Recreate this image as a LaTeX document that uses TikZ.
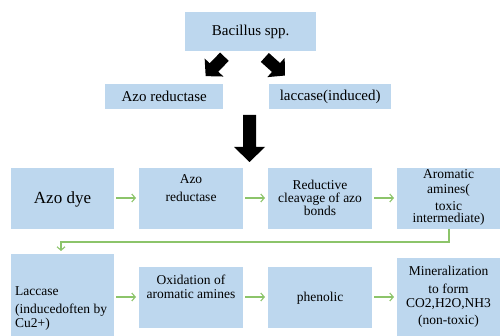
\documentclass[tikz,border=0pt]{standalone}
\usepackage{fontspec}
\setmainfont{Liberation Serif}
\usetikzlibrary{arrows.meta}
\definecolor{boxblue}{HTML}{BDD7EE}
\definecolor{flowgreen}{HTML}{8CC46A}
\begin{document}
\begin{tikzpicture}[x=1pt,y=-1pt,
  box/.style={fill=boxblue, draw=none, inner sep=0pt, anchor=north west},
  txt/.style={inner sep=0pt, align=center, font=\fontsize{13.5}{13.5}\selectfont},
  bigtxt/.style={inner sep=0pt, font=\fontsize{15}{15}\selectfont},
  flow/.style={draw=flowgreen, line width=1.1pt, -{Straight Barb[length=3.5pt,width=8pt]}, shorten <=2pt, shorten >=3pt},
  blockarrow/.style={fill=black}
]
\useasboundingbox (0,0) rectangle (500,336);
% top boxes
\node[box, minimum width=131pt, minimum height=39pt] (bac) at (185,12) {};
\node[bigtxt] (bact) at (bac.center) {Bacillus spp.};
\node[box, minimum width=118pt, minimum height=25pt] (azor) at (105,84) {};
\node[bigtxt] (azort) at (azor.center) {Azo reductase};
\node[box, minimum width=122pt, minimum height=25pt] (lacc) at (269,84) {};
\node[bigtxt] (lacct) at (lacc.center) {laccase(induced)};
% block arrows
\begin{scope}[shift={(214,67.5)}, rotate=226]
  \fill[blockarrow] (-15,-6) -- (0,-6) -- (0,-13) -- (12,0) -- (0,13) -- (0,6) -- (-15,6) -- cycle;
\end{scope}
\begin{scope}[shift={(276,67.5)}, rotate=-42]
  \fill[blockarrow] (-15,-6) -- (0,-6) -- (0,-13) -- (12,0) -- (0,13) -- (0,6) -- (-15,6) -- cycle;
\end{scope}
\fill[blockarrow] (243,115) -- (256,115) -- (256,147) -- (265,147) -- (249.5,162) -- (234,147) -- (243,147) -- cycle;
% row 1
\node[box, minimum width=103pt, minimum height=61pt] (b1) at (11,168) {};
\node[inner sep=0pt, font=\fontsize{17}{17}\selectfont] (b1t) at (62.5,199) {Azo dye};
\node[box, minimum width=104pt, minimum height=61pt] (b2) at (139,168) {};
\node[txt] (b2t) at (191,188.5) {Azo\\[4.5pt]reductase};
\node[box, minimum width=104pt, minimum height=61pt] (b3) at (268,168) {};
\node[txt, font=\fontsize{13.5}{13}\selectfont] (b3t) at (320,197.5) {Reductive\\cleavage of azo\\bonds};
\node[box, minimum width=104pt, minimum height=61pt] (b4) at (397,168) {};
\node[txt, font=\fontsize{13.5}{14}\selectfont] (b4t) at (448.5,197) {Aromatic\\[1pt]amines(\\[3pt]toxic\\[-2pt]intermediate)};
% row 2
\node[box, minimum width=103pt, minimum height=100pt] (b5) at (11,254) {};
\node[txt, align=left, anchor=west] (b5t) at (15,308.5) {Laccase\\[4.5pt](inducedoften by\\Cu2+)};
\node[box, minimum width=104pt, minimum height=61pt] (b6) at (139,267) {};
\node[txt] (b6t) at (191,287) {Oxidation of\\aromatic amines};
\node[box, minimum width=104pt, minimum height=61pt] (b7) at (268,267) {};
\node[txt] (b7t) at (320,298) {phenolic};
\node[box, minimum width=104pt, minimum height=100pt] (b8) at (397,258) {};
\node[txt] (b8t) at (448.5,296.5) {Mineralization\\[4.5pt]to form\\[0.5pt]CO2,H2O,NH3\\[3.5pt](non-toxic)};
% green flow arrows
\draw[flow] (b1.east |- 0,198) -- (b2.west |- 0,198);
\draw[flow] (b2.east |- 0,198) -- (b3.west |- 0,198);
\draw[flow] (b3.east |- 0,198) -- (b4.west |- 0,198);
\draw[flow] (b5.east |- 0,297) -- (b6.west |- 0,297);
\draw[flow] (b6.east |- 0,297) -- (b7.west |- 0,297);
\draw[flow] (b7.east |- 0,297) -- (b8.west |- 0,297);
\coordinate (elb) at (449,242);
\draw[flow, shorten <=0pt] (b4.south -| elb) -- (elb) -- (61,242) -- (b5.north -| 61,0);
\end{tikzpicture}
\end{document}
